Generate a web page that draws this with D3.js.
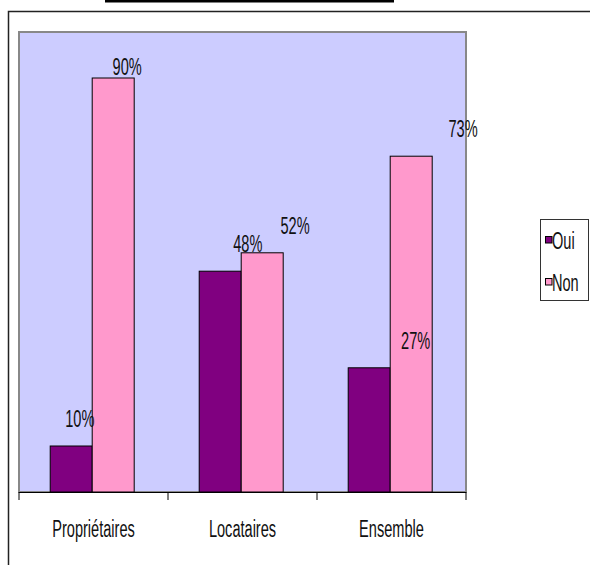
<!DOCTYPE html>
<html>
<head>
<meta charset="utf-8">
<script src="https://cdn.jsdelivr.net/npm/d3@7"></script>
<style>
  html, body { margin: 0; padding: 0; background: #fff; }
  svg { display: block; }
  text { font-family: "Liberation Sans", Arial, sans-serif; fill: #111; }
</style>
</head>
<body>
<svg id="chart" width="590" height="565"></svg>
<script>
// Data
const categories = ["Propriétaires", "Locataires", "Ensemble"];
const seriesNames = ["Oui", "Non"];
const ouiValues = [0.10, 0.48, 0.27];
const nonValues = [0.90, 0.52, 0.73];
const seriesColors = ["#800080", "#FF99CC"];

// Condensed text: regular sans squeezed horizontally
const FONT_SIZE = 23.5;
const SQUEEZE = 0.62;
function narrowText(sel, anchor) {
  return sel.append("text")
    .attr("transform", d => `translate(${d.tx},${d.ty}) scale(${SQUEEZE},1)`)
    .attr("text-anchor", anchor)
    .attr("font-size", FONT_SIZE)
    .text(d => d.text);
}

const svg = d3.select("#chart");

// Outer frame and top rule
svg.append("rect").attr("x", 105).attr("y", 0).attr("width", 289).attr("height", 2.5).attr("fill", "#000");
svg.append("path").attr("d", "M8.5,565V11.5H590").attr("fill", "none").attr("stroke", "#222").attr("stroke-width", 1.5);

// Plot area
const plot = { left: 19, right: 466, top: 32, bottom: 492 };

svg.append("rect")
  .attr("x", plot.left).attr("y", plot.top)
  .attr("width", plot.right - plot.left).attr("height", plot.bottom - plot.top)
  .attr("fill", "#CCCCFF").attr("stroke", "#888").attr("stroke-width", 2);

const x = d3.scaleBand().domain(categories).range([plot.left, plot.right]).paddingInner(0).paddingOuter(0);
const xSub = d3.scaleBand().domain(seriesNames).range([0, x.bandwidth()])
  .paddingInner(0).paddingOuter(0.774).align(0.48);
const y = d3.scaleLinear().domain([0, 1]).range([plot.bottom, plot.top]);

const rows = categories.map((c, i) => ({
  category: c,
  values: [ { s: "Oui", v: ouiValues[i] }, { s: "Non", v: nonValues[i] } ]
}));
const color = d3.scaleOrdinal().domain(seriesNames).range(seriesColors);

const groups = svg.append("g").selectAll("g").data(rows).join("g")
  .attr("transform", d => `translate(${x(d.category)},0)`);

groups.selectAll("rect").data(d => d.values).join("rect")
  .attr("x", d => xSub(d.s))
  .attr("y", d => y(d.v))
  .attr("width", xSub.bandwidth())
  .attr("height", d => y(0) - y(d.v))
  .attr("fill", d => color(d.s))
  .attr("stroke", "#000").attr("stroke-width", 1);

// Value labels (spread slightly wider than the bars, kept inside the plot at the top)
const labelX = d3.scaleLinear().domain([plot.left, plot.right])
  .range([plot.left + 2, plot.left + 2 + (plot.right - plot.left) * 1.127]);
const labelData = [];
rows.forEach(r => r.values.forEach(d => {
  const cx = x(r.category) + xSub(d.s) + xSub.bandwidth() / 2;
  labelData.push({
    tx: labelX(cx),
    ty: Math.max(y(d.v) - 27.5, 66.7) + 8.5,
    text: d3.format(".0%")(d.v)
  });
}));
narrowText(svg.append("g").selectAll("g").data(labelData).join("g"), "middle");

// Category axis
const axis = svg.append("g").attr("transform", `translate(0,${plot.bottom})`)
  .call(d3.axisBottom(x).tickSize(0).tickFormat(""));
axis.select(".domain").attr("stroke", "#000").attr("d", `M${plot.left},0.5H${plot.right}`);
const boundaries = categories.map(c => x(c)).concat([plot.right]);
axis.selectAll("line.sep").data(boundaries).join("line").attr("class", "sep")
  .attr("x1", d => d).attr("x2", d => d).attr("y1", 0).attr("y2", 8)
  .attr("stroke", "#000").attr("stroke-width", 1);
narrowText(
  axis.selectAll("g.cat").data(categories.map(c => ({
    tx: x(c) + x.bandwidth() / 2, ty: 44.5, text: c
  }))).join("g").attr("class", "cat"),
  "middle");

// Legend
const legend = svg.append("g");
legend.append("rect").attr("x", 540.5).attr("y", 219.5).attr("width", 48).attr("height", 81)
  .attr("fill", "#fff").attr("stroke", "#333").attr("stroke-width", 1);
const li = legend.selectAll("g.item").data(seriesNames.map((s, i) => ({
  s, i, tx: 552, ty: 249 + i * 42, text: s
}))).join("g").attr("class", "item");
li.append("rect").attr("x", 545.5).attr("y", d => 236.5 + d.i * 42).attr("width", 6.5).attr("height", 6.5)
  .attr("fill", d => color(d.s)).attr("stroke", "#000").attr("stroke-width", 1);
narrowText(li, "start");
</script>
</body>
</html>
